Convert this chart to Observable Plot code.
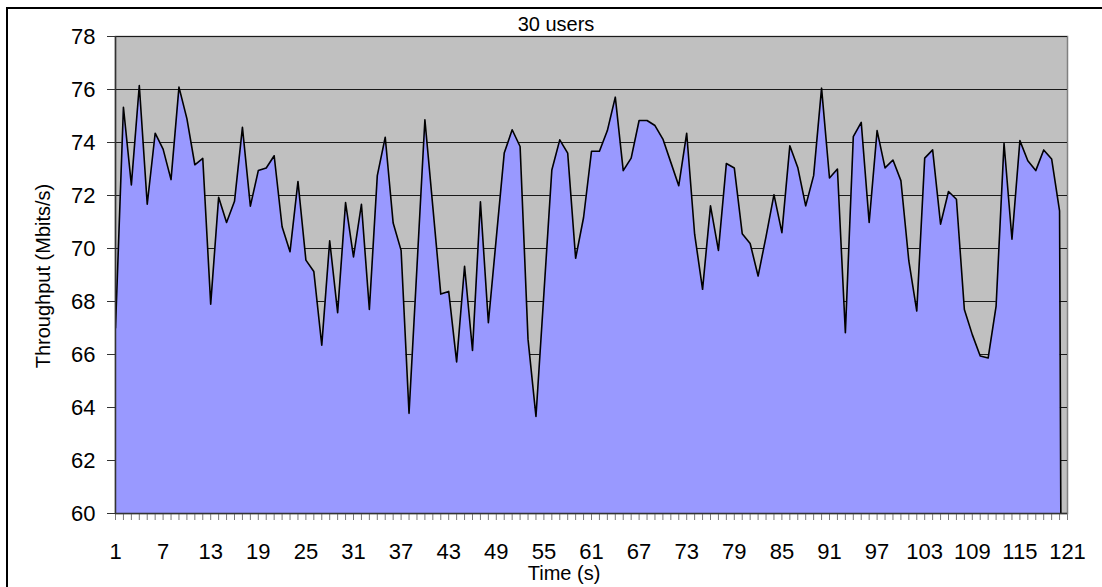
<!DOCTYPE html>
<html>
<head>
<meta charset="utf-8">
<script src="https://cdn.jsdelivr.net/npm/d3@7"></script>
<script src="https://cdn.jsdelivr.net/npm/@observablehq/plot@0.6"></script>
<style>
  html, body { margin: 0; padding: 0; background: #fff; }
  #wrap { position: relative; width: 1102px; height: 587px; overflow: hidden; font-family: "Liberation Sans", Arial, sans-serif; }
  #wrap svg { position: absolute; left: 0; top: 0; }
  .border { position: absolute; left: 6px; top: 7px; width: 1200px; height: 700px; border-left: 2px solid #000; border-top: 2px solid #000; }
  .lbl { position: absolute; white-space: nowrap; color: #000; font-size: 20px; line-height: 1; }
</style>
</head>
<body>
<div id="wrap">
  <div class="border"></div>
</div>
<script>
const title = "30 users";
const xLabel = "Time (s)";
const yLabel = "Throughput (Mbits/s)";

// Time categories (seconds)
const times = d3.range(1, 122);
// Throughput values (Mbits/s), one per second; last point is an empty/zero cell
const throughput = [
  67.0, 75.33, 72.4, 76.15, 71.67, 74.35, 73.75, 72.6, 76.09, 74.9,
  73.16, 73.4, 67.9, 71.93, 70.98, 71.78, 74.57, 71.6, 72.94, 73.04,
  73.5, 70.82, 69.88, 72.53, 69.56, 69.13, 66.35, 70.29, 67.58, 71.73,
  69.68, 71.67, 67.7, 72.75, 74.2, 70.96, 69.93, 63.78, 69.3, 74.86,
  71.57, 68.28, 68.38, 65.72, 69.33, 66.15, 71.76, 67.2, 70.4, 73.6,
  74.48, 73.85, 66.57, 63.66, 68.3, 72.96, 74.1, 73.6, 69.63, 71.17,
  73.67, 73.67, 74.45, 75.71, 72.94, 73.41, 74.83, 74.83, 74.64, 74.13,
  73.25, 72.37, 74.35, 70.54, 68.46, 71.61, 69.93, 73.21, 73.04, 70.56,
  70.19, 68.96, 70.45, 72.03, 70.6, 73.88, 73.06, 71.61, 72.75, 76.05,
  72.66, 73.0, 66.82, 74.22, 74.76, 70.98, 74.45, 73.04, 73.34, 72.56,
  69.53, 67.64, 73.41, 73.72, 70.92, 72.15, 71.86, 67.7, 66.75, 65.94,
  65.87, 67.83, 73.97, 70.35, 74.07, 73.31, 72.94, 73.72, 73.38, 71.42,
  0
];
// Axis ticks
const yTicks = [60, 62, 64, 66, 68, 70, 72, 74, 76, 78];
const xTickLabels = d3.range(1, 122, 6);

const data = times.map((t, i) => ({t, v: throughput[i]}));
const yMin = yTicks[0];

const chart = Plot.plot({
  width: 1102,
  height: 587,
  marginLeft: 115,
  marginRight: 35,
  marginTop: 36,
  marginBottom: 74,
  style: {fontFamily: "'Liberation Sans', Arial, sans-serif", background: "transparent", color: "#000"},
  x: {type: "linear", domain: [times[0], times[times.length - 1]], axis: null},
  y: {domain: [yMin, yTicks[yTicks.length - 1]], axis: null},
  marks: [
    Plot.frame({fill: "#C0C0C0", stroke: "#808080", strokeWidth: 1.5}),
    Plot.gridY(yTicks, {stroke: "#1a1a1a", strokeOpacity: 1, strokeWidth: 1}),
    Plot.areaY(data, {x: "t", y1: yMin, y2: "v", fill: "#9999FF", clip: true}),
    Plot.lineY(data, {x: "t", y: "v", stroke: "#000", strokeWidth: 1.6, clip: true}),
    Plot.axisX(times, {tickSize: 7, tickFormat: () => "", stroke: "#7a7a7a", label: null}),
    Plot.axisX(xTickLabels, {tickSize: 0, tickPadding: 30, fontSize: 22, label: null}),
    Plot.axisY(yTicks, {tickSize: 8, tickPadding: 12, fontSize: 22, stroke: "#333", label: null}),
    Plot.ruleX([times[0]], {stroke: "#333", strokeWidth: 1.5}),
    Plot.ruleY([yMin], {stroke: "#333", strokeWidth: 1.5})
  ]
});

const wrap = document.getElementById("wrap");
wrap.appendChild(chart);

function addLabel(text, cx, cy, rot) {
  const d = document.createElement("div");
  d.className = "lbl";
  d.textContent = text;
  d.style.left = cx + "px";
  d.style.top = cy + "px";
  d.style.transform = "translate(-50%, -50%)" + (rot ? " rotate(" + rot + "deg)" : "");
  wrap.appendChild(d);
}
addLabel(title, 556, 24, 0);
addLabel(xLabel, 564, 573, 0);
addLabel(yLabel, 43, 276, -90);
</script>
</body>
</html>
